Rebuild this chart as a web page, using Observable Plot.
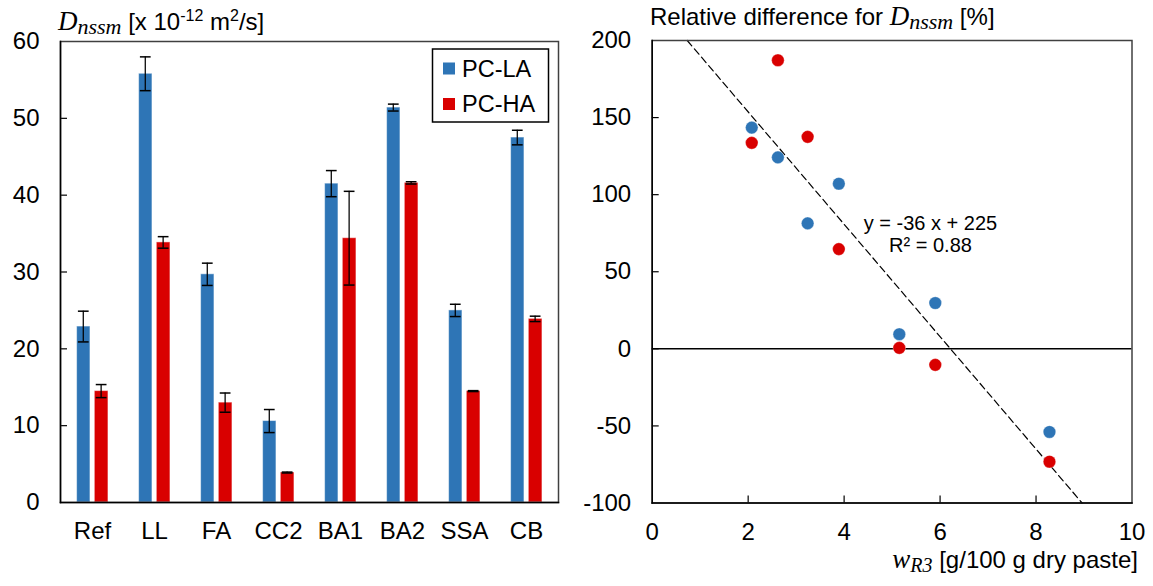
<!DOCTYPE html>
<html>
<head>
<meta charset="utf-8">
<script src="https://cdn.jsdelivr.net/npm/d3@7"></script>
<script src="https://cdn.jsdelivr.net/npm/@observablehq/plot@0.6"></script>
<style>
  html, body { margin: 0; padding: 0; background: #fff; }
  #wrap { position: relative; width: 1153px; height: 586px; overflow: hidden; font-family: "Liberation Sans", Arial, sans-serif; }
  #wrap > * { position: absolute; top: 0; }
</style>
</head>
<body>
<div id="wrap"></div>
<script>
// ---------- Data: left chart ----------
const categories = ["Ref", "LL", "FA", "CC2", "BA1", "BA2", "SSA", "CB"];
const laMean = [22.9, 55.8, 29.7, 10.6, 41.5, 51.4, 25.0, 47.5];
const laErr  = [2.0, 2.2, 1.45, 1.5, 1.7, 0.45, 0.8, 0.95];
const haMean = [14.5, 33.85, 13.0, 3.9, 34.4, 41.6, 14.5, 23.9];
const haErr  = [0.85, 0.75, 1.25, 0.06, 6.1, 0.15, 0.06, 0.35];
const leftTicks = [0, 10, 20, 30, 40, 50, 60];

// ---------- Data: right chart ----------
const wR3   = [2.075, 2.62, 3.24, 3.89, 5.15, 5.90, 8.28];
const relLA = [143.5, 124.2, 81.4, 107.1, 9.5, 29.7, -53.9];
const relHA = [133.6, 187.2, 137.5, 64.7, 0.6, -10.4, -73.2];
const trendX = [0.73, 8.96];
const trendY = [200, -100];
const rightXTicks = [0, 2, 4, 6, 8, 10];
const rightYTicks = [-100, -50, 0, 50, 100, 150, 200];

const BLUE = "#2e75b6";
const RED = "#d90000";
const FONT = "Liberation Sans, Arial, sans-serif";
const TICKFS = 24;
const fmt = d => String(d);

const la = categories.map((c, i) => ({cat: c, v: laMean[i], lo: laMean[i] - laErr[i], hi: laMean[i] + laErr[i]}));
const ha = categories.map((c, i) => ({cat: c, v: haMean[i], lo: haMean[i] - haErr[i], hi: haMean[i] + haErr[i]}));

// ---------- Left chart ----------
const LW = 575, LH = 586;
const lm = {top: 41, right: 17, bottom: 84, left: 60};
const lpw = LW - lm.left - lm.right;
const lph = LH - lm.top - lm.bottom;
const bw = lpw / categories.length;

const blueL = 15.6, blueR = 29.2, redL = 33.3, redR = 47.2;
const blueC = (blueL + blueR) / 2, redC = (redL + redR) / 2;
const capHalf = 5.5, whisk = 0.75;

const left = Plot.plot({
  width: LW, height: LH,
  marginTop: lm.top, marginRight: lm.right, marginBottom: lm.bottom, marginLeft: lm.left,
  style: {fontFamily: FONT, fontSize: TICKFS + "px", color: "#000", background: "transparent"},
  x: {type: "band", domain: categories, paddingInner: 0, paddingOuter: 0, label: null},
  y: {domain: [0, 60], label: null},
  marks: [
    Plot.barY(la, {x: "cat", y: "v", fill: BLUE, stroke: "#fff", strokeOpacity: 0.5, strokeWidth: 1,
      insetLeft: blueL, insetRight: bw - blueR}),
    Plot.barY(ha, {x: "cat", y: "v", fill: RED, stroke: "#fff", strokeOpacity: 0.5, strokeWidth: 1,
      insetLeft: redL, insetRight: bw - redR}),
    Plot.barY(la, {x: "cat", y1: "lo", y2: "hi", fill: "#000",
      insetLeft: blueC - whisk, insetRight: bw - blueC - whisk}),
    Plot.barY(ha, {x: "cat", y1: "lo", y2: "hi", fill: "#000",
      insetLeft: redC - whisk, insetRight: bw - redC - whisk}),
    Plot.tickY(la, {x: "cat", y: "lo", stroke: "#000", strokeWidth: 1.5, insetLeft: blueC - capHalf, insetRight: bw - blueC - capHalf}),
    Plot.tickY(la, {x: "cat", y: "hi", stroke: "#000", strokeWidth: 1.5, insetLeft: blueC - capHalf, insetRight: bw - blueC - capHalf}),
    Plot.tickY(ha, {x: "cat", y: "lo", stroke: "#000", strokeWidth: 1.5, insetLeft: redC - capHalf, insetRight: bw - redC - capHalf}),
    Plot.tickY(ha, {x: "cat", y: "hi", stroke: "#000", strokeWidth: 1.5, insetLeft: redC - capHalf, insetRight: bw - redC - capHalf}),
    Plot.tickY(leftTicks.slice(1, -1), {y: d => d, stroke: "#000", strokeWidth: 1.2, insetRight: lpw - 7}),
    Plot.frame({stroke: "#404040", strokeWidth: 1.5}),
    Plot.frame({anchor: "left", stroke: "#000", strokeWidth: 1.5}),
    Plot.frame({anchor: "bottom", stroke: "#000", strokeWidth: 1.5}),
    Plot.axisY(leftTicks, {tickSize: 0, tickPadding: 21, fontSize: TICKFS, tickFormat: fmt}),
    Plot.axisX({tickSize: 0, tickPadding: 19, fontSize: TICKFS})
  ]
});
left.style.left = "0px";

// ---------- Right chart ----------
const RX = 570, RW = 583, RH = 586;
const rm = {top: 40, right: 21.5, bottom: 83.5, left: 81.7};
const rpw = RW - rm.left - rm.right;
const rph = RH - rm.top - rm.bottom;

const right = Plot.plot({
  width: RW, height: RH,
  marginTop: rm.top, marginRight: rm.right, marginBottom: rm.bottom, marginLeft: rm.left,
  style: {fontFamily: FONT, fontSize: TICKFS + "px", color: "#000", background: "transparent"},
  x: {domain: [0, 10], label: null},
  y: {domain: [-100, 200], label: null},
  marks: [
    Plot.ruleY([0], {stroke: "#000", strokeWidth: 1.5}),
    Plot.line(trendX.map((x, i) => ({x, y: trendY[i]})), {x: "x", y: "y", stroke: "#000", strokeWidth: 1.2, strokeDasharray: "7,4"}),
    Plot.dot(wR3.map((x, i) => ({x, y: relLA[i]})), {x: "x", y: "y", r: 6.3, fill: BLUE, stroke: "#fff", strokeOpacity: 0.4, strokeWidth: 0.8}),
    Plot.dot(wR3.map((x, i) => ({x, y: relHA[i]})), {x: "x", y: "y", r: 6.3, fill: RED, stroke: "#fff", strokeOpacity: 0.4, strokeWidth: 0.8}),
    Plot.text(["y = -36 x + 225\nR\u00b2 = 0.88"], {x: 5.8, y: 74.5, text: d => d, fontSize: 20, lineHeight: 1.12, textAnchor: "middle", lineAnchor: "middle", fill: "#000"}),
    Plot.tickY(rightYTicks.slice(1, -1), {y: d => d, stroke: "#000", strokeWidth: 1.2, insetRight: rpw - 7}),
    Plot.tickX(rightXTicks.slice(1, -1), {x: d => d, stroke: "#000", strokeWidth: 1.2, insetTop: rph - 7}),
    Plot.frame({stroke: "#404040", strokeWidth: 1.5}),
    Plot.frame({anchor: "left", stroke: "#000", strokeWidth: 1.5}),
    Plot.frame({anchor: "bottom", stroke: "#000", strokeWidth: 1.5}),
    Plot.axisY(rightYTicks, {tickSize: 0, tickPadding: 21, fontSize: TICKFS, tickFormat: fmt}),
    Plot.axisX(rightXTicks, {tickSize: 0, tickPadding: 20, fontSize: TICKFS, tickFormat: fmt})
  ]
});
right.style.left = RX + "px";

const wrap = document.getElementById("wrap");
wrap.appendChild(left);
wrap.appendChild(right);

// ---------- Titles, legend (overlay) ----------
const ov = d3.create("svg").attr("width", 1153).attr("height", 586)
  .style("pointer-events", "none").style("left", "0px")
  .attr("font-family", FONT).attr("font-size", 24).attr("fill", "#000");
const SERIF = "Liberation Serif, Times New Roman, serif";

// left title
const t1 = ov.append("text").attr("x", 58).attr("y", 30);
t1.append("tspan").attr("font-family", SERIF).attr("font-style", "italic").attr("font-size", 27).text("D");
t1.append("tspan").attr("font-family", SERIF).attr("font-style", "italic").attr("font-size", 22).attr("dy", 4).text("nssm");
t1.append("tspan").attr("dy", -4).text(" [x 10");
t1.append("tspan").attr("font-size", 16).attr("dy", -9).text("-12");
t1.append("tspan").attr("dy", 9).text(" m");
t1.append("tspan").attr("font-size", 16).attr("dy", -9).text("2");
t1.append("tspan").attr("dy", 9).text("/s]");

// right title
const t2 = ov.append("text").attr("x", 650).attr("y", 25);
t2.append("tspan").text("Relative difference for ");
t2.append("tspan").attr("font-family", SERIF).attr("font-style", "italic").attr("font-size", 27).text("D");
t2.append("tspan").attr("font-family", SERIF).attr("font-style", "italic").attr("font-size", 22).attr("dy", 4).text("nssm");
t2.append("tspan").attr("dy", -4).text(" [%]");

// right x-axis title
const t3 = ov.append("text").attr("x", 1138).attr("y", 568).attr("text-anchor", "end");
t3.append("tspan").attr("font-family", SERIF).attr("font-style", "italic").attr("font-size", 27).text("w");
t3.append("tspan").attr("font-family", SERIF).attr("font-style", "italic").attr("font-size", 20).attr("dy", 4).text("R3");
t3.append("tspan").attr("dy", -4).text(" [g/100 g dry paste]");

// legend
const lg = ov.append("g");
lg.append("rect").attr("x", 432.5).attr("y", 49).attr("width", 116).attr("height", 73)
  .attr("fill", "#fff").attr("stroke", "#000").attr("stroke-width", 1.5);
[["PC-LA", BLUE, 68.5], ["PC-HA", RED, 104]].forEach(([lab, col, cy]) => {
  lg.append("rect").attr("x", 443).attr("y", cy - 6).attr("width", 12).attr("height", 12).attr("fill", col);
  lg.append("text").attr("x", 462).attr("y", cy + 8).attr("font-size", 23.5).text(lab);
});

wrap.appendChild(ov.node());
</script>
</body>
</html>
